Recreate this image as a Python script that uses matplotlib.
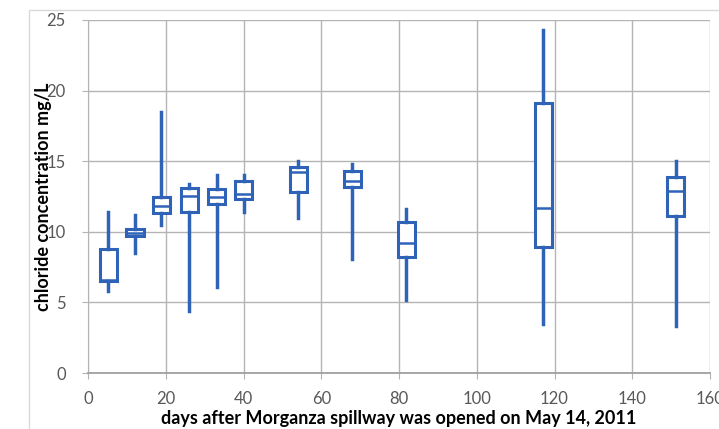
import matplotlib
matplotlib.use("Agg")
from matplotlib import pyplot as plt
from matplotlib.patches import Rectangle

# days after opening (box positions)
days = [5.2, 12.1, 18.9, 26.0, 33.1, 40.1, 54.1, 68.0, 81.9, 117.1, 151.2]
# chloride concentration statistics, mg/L
whisker_lo = [5.8, 8.5, 10.5, 4.4, 6.1, 11.4, 11.0, 8.1, 5.2, 3.5, 3.3]
q1 = [6.5, 9.7, 11.3, 11.4, 12.0, 12.3, 12.8, 13.2, 8.2, 8.9, 11.1]
median = [6.6, 9.95, 11.8, 12.55, 12.5, 12.7, 14.2, 13.6, 9.2, 11.7, 12.9]
q3 = [8.8, 10.2, 12.5, 13.1, 13.0, 13.6, 14.6, 14.3, 10.7, 19.1, 13.9]
whisker_hi = [11.4, 11.2, 18.5, 13.4, 14.0, 14.0, 15.0, 14.8, 11.6, 24.3, 15.0]

x_ticks = [0, 20, 40, 60, 80, 100, 120, 140, 160]
y_ticks = [0, 5, 10, 15, 20, 25]

blue = "#2f63b8"
plt.rcParams["font.family"] = ["Lato", "DejaVu Sans"]

fig = plt.figure(figsize=(7.19, 4.29), dpi=100)
ax = fig.add_axes([0.1224, 0.1305, 0.8651, 0.8229])

stats = []
for i in range(len(days)):
    stats.append({
        "whislo": whisker_lo[i], "q1": q1[i], "med": median[i],
        "q3": q3[i], "whishi": whisker_hi[i], "fliers": [],
    })

ax.bxp(
    stats, positions=days, widths=4.4, showcaps=False, showfliers=False,
    patch_artist=True, manage_ticks=False,
    boxprops=dict(facecolor="white", edgecolor=blue, linewidth=2.2),
    medianprops=dict(color=blue, linewidth=1.8),
    whiskerprops=dict(color=blue, linewidth=2.5),
)

ax.set_xlim(0, 160)
ax.set_ylim(0, 25)
ax.set_xticks(x_ticks)
ax.set_yticks(y_ticks)
ax.grid(True, color="#b4b4b4", linewidth=1.0)
ax.set_axisbelow(True)
for side in ["top", "right"]:
    ax.spines[side].set_visible(False)
ax.spines["left"].set_color("#b4b4b4")
ax.spines["bottom"].set_color("#a0a0a0")
ax.spines["bottom"].set_linewidth(1.3)
ax.tick_params(axis="both", colors="#b4b4b4", labelcolor="#595959",
               labelsize=12, length=4)
ax.tick_params(axis="x", pad=9)
ax.tick_params(axis="y", pad=12)

# the y label overlaps the tick labels in the original, kept that way
ax.set_xlabel("days after Morganza spillway was opened on May 14, 2011",
              fontsize=13, fontweight="bold")
ax.set_ylabel("chloride concentration mg/L", fontsize=13, fontweight="bold")
ax.xaxis.set_label_coords(0.5, -0.104)
ax.yaxis.set_label_coords(-0.058, 0.5)

# faint chart-area border
fig.patches.append(Rectangle((29 / 719, -0.1), 1.2, 1 - 10 / 429 + 0.1,
                             transform=fig.transFigure, fill=False,
                             edgecolor="#d9d9d9", linewidth=1.0))

fig.savefig("out.png", dpi=100)
